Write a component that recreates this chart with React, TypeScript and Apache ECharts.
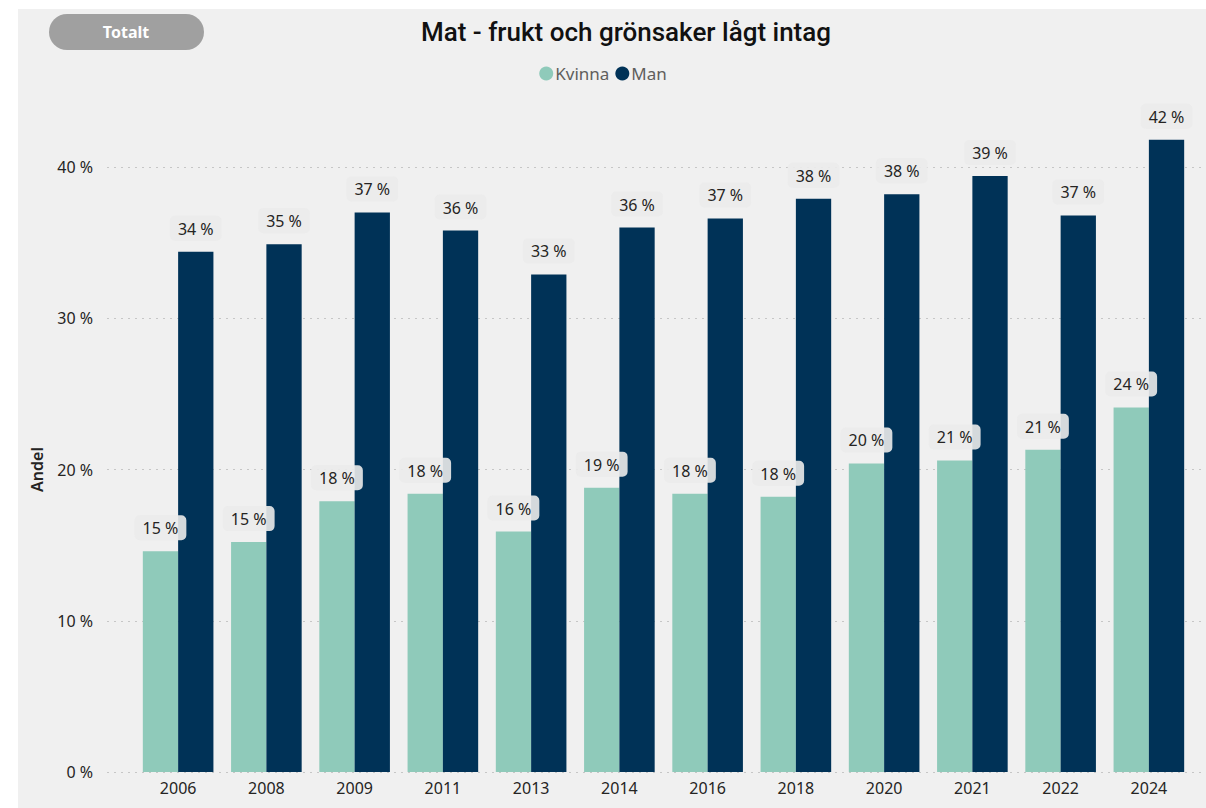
import React, { useEffect, useRef } from "react";
import * as echarts from "echarts";

const years = ["2006", "2008", "2009", "2011", "2013", "2014", "2016", "2018", "2020", "2021", "2022", "2024"];
const kvinna = [14.6, 15.2, 17.9, 18.4, 15.9, 18.8, 18.4, 18.2, 20.4, 20.6, 21.3, 24.1];
const man = [34.4, 34.9, 37.0, 35.8, 32.9, 36.0, 36.6, 37.9, 38.2, 39.4, 36.8, 41.8];
const yTicks = [0, 10, 20, 30, 40];

const FONT = "'Noto Sans', 'Open Sans', sans-serif";
const TXT = "#252423";

export default function App() {
  const ref = useRef<HTMLDivElement>(null);
  useEffect(() => {
    if (!ref.current) return;
    const chart = echarts.init(ref.current, undefined, { renderer: "svg" });
    const labelCfg = {
      show: true,
      position: "top",
      distance: 11,
      formatter: (p: any) => `${Math.round(p.value)} %`,
      color: TXT,
      fontFamily: FONT,
      fontSize: 16,
      backgroundColor: "rgba(235,235,235,0.9)",
      borderRadius: 5,
      padding: [5, 8, 4, 8],
    };
    chart.setOption({
      animation: false,
      backgroundColor: "#ffffff",
      textStyle: { fontFamily: FONT },
      title: {
        text: "Mat - frukt och grönsaker lågt intag",
        left: 621,
        textAlign: "center",
        top: 14,
        textStyle: { fontFamily: "Roboto, sans-serif", fontWeight: 500, fontSize: 26, color: "#111" },
      },
      legend: {
        top: 60,
        left: "center",
        icon: "circle",
        itemWidth: 14,
        itemHeight: 14,
        itemGap: 6,
        textStyle: { color: "#605e5c", fontSize: 17, fontFamily: FONT, padding: [0, 0, 0, -3] },
        data: ["Kvinna", "Man"],
      },
      graphic: [
        { type: "rect", z: -10, shape: { x: 18, y: 9, width: 1188, height: 799 }, style: { fill: "#f0f0f0" }, silent: true },
        { type: "rect", z: 10, shape: { x: 49, y: 14, width: 155, height: 36, r: 18 }, style: { fill: "#a0a0a0" } },
        {
          type: "text",
          z: 11,
          x: 126,
          y: 32,
          style: { text: "Totalt", fill: "#ffffff", font: `bold 16px ${FONT}`, align: "center", verticalAlign: "middle" },
        },
      ],
      grid: [
        { left: 107, right: 2, top: 167, bottom: 36, containLabel: false },
        { left: 134, right: 13, top: 772 - 45 * 15.125, bottom: 36, containLabel: false },
      ],
      xAxis: [
        { type: "category", gridIndex: 0, data: years, show: false },
        {
          type: "category",
          gridIndex: 1,
          data: years,
          axisLine: { show: false },
          axisTick: { show: false },
          axisLabel: { color: TXT, fontSize: 16, fontFamily: FONT, margin: 8 },
        },
      ],
      yAxis: [
        {
          type: "value",
          gridIndex: 0,
          min: 0,
          max: 40,
          interval: 10,
          name: "Andel",
          nameLocation: "middle",
          nameGap: 62,
          nameTextStyle: { color: TXT, fontSize: 16, fontFamily: FONT, fontWeight: 600 },
          axisLine: { show: false },
          axisTick: { show: false },
          axisLabel: {
            color: TXT,
            fontSize: 16,
            fontFamily: FONT,
            margin: 14,
            formatter: (v: number) => (yTicks.includes(v) ? `${v} %` : ""),
          },
          splitLine: { show: true, lineStyle: { color: "#c6c6c6", type: [2, 5], width: 1 } },
        },
        { type: "value", gridIndex: 1, min: 0, max: 45, show: false, splitLine: { show: false } },
      ],
      series: [
        {
          name: "Kvinna",
          type: "bar",
          xAxisIndex: 1,
          yAxisIndex: 1,
          data: kvinna,
          barGap: "0%",
          barCategoryGap: "20%",
          itemStyle: { color: "#8fcaba" },
          label: labelCfg,
        },
        {
          name: "Man",
          type: "bar",
          xAxisIndex: 1,
          yAxisIndex: 1,
          data: man,
          barGap: "0%",
          barCategoryGap: "20%",
          itemStyle: { color: "#003257" },
          label: labelCfg,
        },
      ],
    });
    return () => chart.dispose();
  }, []);
  return <div ref={ref} style={{ position: "fixed", left: 0, top: 0, width: 1206, height: 808 }} />;
}
